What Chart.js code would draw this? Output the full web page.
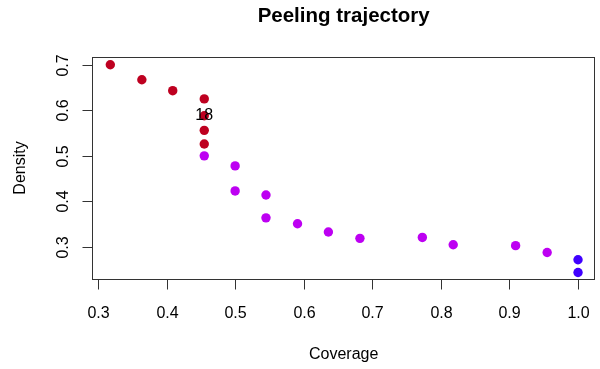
<!DOCTYPE html>
<html>
<head>
<meta charset="utf-8">
<script src="https://cdn.jsdelivr.net/npm/chart.js@4/dist/chart.umd.min.js"></script>
<style>
  html, body { margin: 0; padding: 0; background: #fff; }
  #wrap { width: 600px; height: 369px; }
</style>
</head>
<body>
<div id="wrap"><canvas id="chart" width="600" height="369"></canvas></div>
<script>
// peeling trajectory values
const coverage = [0.318, 0.364, 0.409, 0.455, 0.455, 0.455, 0.455, 0.455, 0.5, 0.5, 0.545,
  0.545, 0.591, 0.636, 0.682, 0.773, 0.818, 0.909, 0.955, 1.0, 1.0];
const density = [0.7, 0.667, 0.643, 0.625, 0.588, 0.556, 0.526, 0.5, 0.478, 0.423, 0.414,
  0.364, 0.351, 0.333, 0.319, 0.321, 0.305, 0.303, 0.288, 0.272, 0.244];
// colour group of every point: 0 red, 1 purple, 2 blue
const group = [0, 0, 0, 0, 0, 0, 0, 1, 1, 1, 1, 1, 1, 1, 1, 1, 1, 1, 1, 2, 2];
const groupColors = ['#BE0020', '#BD00F2', '#4000FF'];

const xTicks = [0.3, 0.4, 0.5, 0.6, 0.7, 0.8, 0.9, 1.0];
const yTicks = [0.3, 0.4, 0.5, 0.6, 0.7];
const pointLabel = { index: 4, text: '18' };

const font = '"Liberation Sans", Arial, Helvetica, sans-serif';

const points = coverage.map((c, i) => ({ x: c, y: density[i] }));

// draws the R style frame, ticks, labels and titles
const basePlot = {
  id: 'basePlot',
  afterDatasetsDraw(chart) {
    const ctx = chart.ctx;
    const a = chart.chartArea;
    const xs = chart.scales.x;
    const ys = chart.scales.y;
    ctx.save();
    ctx.strokeStyle = '#333';
    ctx.lineWidth = 1;
    ctx.strokeRect(Math.round(a.left) + 0.5, Math.round(a.top) + 0.5,
      Math.round(a.right - a.left) - 1, Math.round(a.bottom - a.top));

    ctx.fillStyle = '#000';
    ctx.font = '16px ' + font;
    ctx.textAlign = 'center';
    ctx.textBaseline = 'alphabetic';

    const bottom = Math.round(a.bottom) + 0.5;
    xTicks.forEach(v => {
      const px = Math.round(xs.getPixelForValue(v)) + 0.5;
      ctx.beginPath();
      ctx.moveTo(px, bottom);
      ctx.lineTo(px, bottom + 10);
      ctx.stroke();
      ctx.fillText(v.toFixed(1), px, 318);
    });

    const left = Math.round(a.left) + 0.5;
    yTicks.forEach(v => {
      const py = Math.round(ys.getPixelForValue(v)) + 0.5;
      ctx.beginPath();
      ctx.moveTo(left, py);
      ctx.lineTo(left - 10, py);
      ctx.stroke();
      ctx.save();
      ctx.translate(68, py);
      ctx.rotate(-Math.PI / 2);
      ctx.fillText(v.toFixed(1), 0, 0);
      ctx.restore();
    });

    // text label on a point
    const lx = xs.getPixelForValue(coverage[pointLabel.index]);
    const ly = ys.getPixelForValue(density[pointLabel.index]);
    ctx.textBaseline = 'middle';
    ctx.fillText(pointLabel.text, lx, ly);
    ctx.textBaseline = 'alphabetic';

    const cx = (a.left + a.right) / 2;
    const cy = (a.top + a.bottom) / 2;
    ctx.fillText('Coverage', cx, 359);
    ctx.save();
    ctx.translate(25, cy);
    ctx.rotate(-Math.PI / 2);
    ctx.fillText('Density', 0, 0);
    ctx.restore();

    ctx.font = 'bold 20.5px ' + font;
    ctx.fillText('Peeling trajectory', cx, 22);
    ctx.restore();
  }
};

new Chart(document.getElementById('chart').getContext('2d'), {
  type: 'scatter',
  data: {
    datasets: [{
      label: 'trajectory',
      data: points,
      pointRadius: 4.7,
      pointHoverRadius: 4.7,
      borderWidth: 0,
      pointBackgroundColor: group.map(g => groupColors[g]),
      pointBorderColor: group.map(g => groupColors[g]),
      clip: false
    }]
  },
  options: {
    responsive: false,
    animation: false,
    events: [],
    layout: { padding: { left: 92, right: 2, top: 57, bottom: 90 } },
    plugins: {
      legend: { display: false },
      tooltip: { enabled: false },
      title: { display: false }
    },
    scales: {
      x: { type: 'linear', display: false, min: 0.2913, max: 1.0252 },
      y: { type: 'linear', display: false, min: 0.2298, max: 0.7169 }
    }
  },
  plugins: [basePlot]
});
</script>
</body>
</html>
